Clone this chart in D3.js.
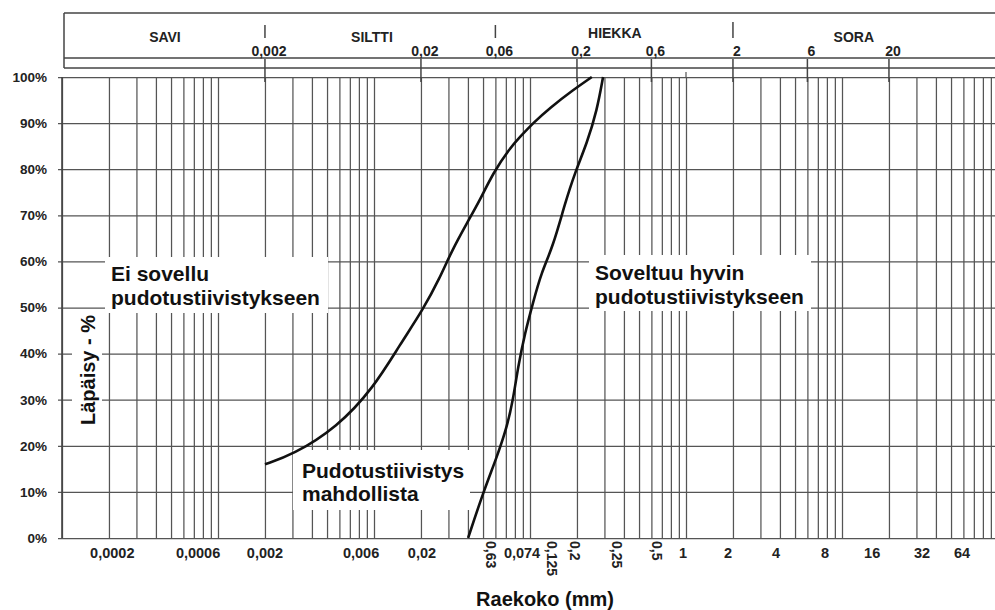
<!DOCTYPE html>
<html>
<head>
<meta charset="utf-8">
<script src="https://cdn.jsdelivr.net/npm/d3@7"></script>
<style>
  html, body { margin: 0; padding: 0; background: #fff; }
  svg { display: block; font-family: "Liberation Sans", Arial, sans-serif; font-weight: bold; }
  .grid line { stroke: #555; stroke-width: 1.25; }
  .grid path { display: none; }
</style>
</head>
<body>
<div id="chart"></div>
<script>
// Curves: grain size (mm) and passing (%)
const fineSize = [0.002, 0.003, 0.0058, 0.0099, 0.0147, 0.0206, 0.0265, 0.0312, 0.0394, 0.0478, 0.058, 0.0745, 0.0863, 0.1045, 0.134, 0.189, 0.249];
const finePass = [16, 18, 24, 32.5, 42, 49.5, 56.5, 62, 68.3, 73.3, 79.2, 84.6, 87, 90, 93.3, 97.2, 100];
const coarseSize = [0.0401, 0.05, 0.0614, 0.0712, 0.0778, 0.0838, 0.0929, 0.1045, 0.118, 0.14, 0.168, 0.194, 0.232, 0.269, 0.294];
const coarsePass = [0, 9.8, 17.6, 24.1, 29.9, 37.1, 44.5, 51, 57.5, 63.1, 72.7, 79.2, 85.7, 92.8, 100];

// Y ticks
const yTicks = [0, 10, 20, 30, 40, 50, 60, 70, 80, 90, 100];

// Bottom tick labels and the grain size where each one sits in the picture
const bottomLabels = ["0,0002", "0,0006", "0,002", "0,006", "0,02", "0,63", "0,074", "0,125", "0,2", "0,25", "0,5", "1", "2", "4", "8", "16", "32", "64"];
const bottomLabelAt = [0.00021, 0.000745, 0.002, 0.00826, 0.0203, 0.0562, 0.0889, 0.138, 0.194, 0.361, 0.652, 0.957, 1.86, 3.78, 7.78, 15.6, 32.6, 58.8];
const bottomRotated = [false, false, false, false, false, true, false, true, true, true, true, false, false, false, false, false, false, false];

// Top band: soil classes, boundaries and size labels
const classNames = ["SAVI", "SILTTI", "HIEKKA", "SORA"];
const classLabelAt = [0.000457, 0.0097, 0.35, 11.9];
const classBounds = [0.002, 0.06, 2];
const bandLabels = ["0,002", "0,02", "0,06", "0,2", "0,6", "2", "6", "20"];
const bandValues = [0.002, 0.02, 0.06, 0.2, 0.6, 2, 6, 20];
const bandTicks = [0.002, 0.02, 0.2, 0.6, 2, 6, 20];

const width = 995, height = 610;
const plotLeft = 62, plotRight = 998, plotTop = 77, plotBottom = 538;

const svg = d3.select("#chart").append("svg")
    .attr("width", width)
    .attr("height", height);

const x = d3.scaleLog().domain([1e-4, 100]).range([plotLeft, plotRight]);
const y = d3.scaleLinear().domain([0, 100]).range([plotBottom, plotTop]);

// vertical log grid
svg.append("g")
    .attr("class", "grid")
    .attr("transform", "translate(0," + plotBottom + ")")
    .call(d3.axisBottom(x).tickValues(x.ticks()).tickSize(-(plotBottom - plotTop)).tickFormat(""));

// small stub above grid line at 1 mm
svg.append("line")
    .attr("x1", x(1)).attr("x2", x(1))
    .attr("y1", 72).attr("y2", plotTop)
    .attr("stroke", "#555").attr("stroke-width", 1.2);

// horizontal grid with % labels
const yAxis = svg.append("g")
    .attr("class", "grid")
    .attr("transform", "translate(58,0)")
    .call(d3.axisLeft(y).tickValues(yTicks).tickSize(-(plotRight - 58)).tickPadding(11).tickFormat(d => d + "%"));
yAxis.selectAll("text")
    .attr("fill", "#222")
    .style("font-size", "13.5px")
    .style("font-family", "'Liberation Sans', Arial, sans-serif")
    .style("font-weight", "bold");

// left axis line
svg.append("line")
    .attr("x1", plotLeft).attr("x2", plotLeft)
    .attr("y1", plotTop).attr("y2", plotBottom)
    .attr("stroke", "#444").attr("stroke-width", 1.6);

// top band
const band = svg.append("g").attr("stroke", "#444").attr("stroke-width", 1.5);
band.append("line").attr("x1", 64).attr("x2", plotRight).attr("y1", 13).attr("y2", 13);
band.append("line").attr("x1", 64).attr("x2", 64).attr("y1", 13).attr("y2", 68);
band.append("line").attr("x1", 64).attr("x2", plotRight).attr("y1", 58).attr("y2", 58);
band.append("line").attr("x1", 64).attr("x2", plotRight).attr("y1", 68).attr("y2", 68);

band.selectAll(".divider")
    .data(classBounds)
    .enter().append("line")
    .attr("x1", d => x(d)).attr("x2", d => x(d))
    .attr("y1", d => d === 2 ? 22 : 25).attr("y2", 38);

band.selectAll(".btick")
    .data(bandTicks)
    .enter().append("line")
    .attr("x1", d => x(d)).attr("x2", d => x(d))
    .attr("y1", 59).attr("y2", 82);

svg.selectAll(".cls")
    .data(classNames)
    .enter().append("text")
    .attr("x", (d, i) => x(classLabelAt[i]))
    .attr("y", (d, i) => i === 2 ? 38 : 42)
    .attr("text-anchor", "middle")
    .attr("font-size", 14)
    .attr("fill", "#222")
    .text(d => d);

svg.selectAll(".blab")
    .data(bandLabels)
    .enter().append("text")
    .attr("x", (d, i) => x(bandValues[i]) + 4)
    .attr("y", 56)
    .attr("text-anchor", "middle")
    .attr("font-size", 14)
    .attr("fill", "#222")
    .text(d => d);

// bottom labels
svg.selectAll(".xlab")
    .data(bottomLabels)
    .enter().append("text")
    .attr("fill", "#222")
    .attr("font-size", (d, i) => bottomRotated[i] ? 14 : 14.5)
    .attr("text-anchor", (d, i) => bottomRotated[i] ? "start" : "middle")
    .attr("dominant-baseline", (d, i) => bottomRotated[i] ? "central" : "auto")
    .attr("transform", (d, i) => bottomRotated[i]
        ? "translate(" + x(bottomLabelAt[i]) + ",541) rotate(90)"
        : "translate(" + x(bottomLabelAt[i]) + ",558)")
    .text(d => d);

// axis titles
svg.append("text")
    .attr("x", 545).attr("y", 606)
    .attr("text-anchor", "middle")
    .attr("font-size", 20)
    .attr("fill", "#111")
    .text("Raekoko (mm)");

// white label boxes over the grid
const boxes = svg.append("g").attr("fill", "#fff");
boxes.append("rect").attr("x", 72).attr("y", 310).attr("width", 30).attr("height", 122);
boxes.append("rect").attr("x", 105).attr("y", 257).attr("width", 223).attr("height", 56);
boxes.append("rect").attr("x", 589).attr("y", 255).attr("width", 222).attr("height", 56);
boxes.append("rect").attr("x", 293).attr("y", 450).attr("width", 177).attr("height", 60);

svg.append("text")
    .attr("transform", "translate(95,370) rotate(-90)")
    .attr("text-anchor", "middle")
    .attr("font-size", 20)
    .attr("fill", "#111")
    .text("Läpäisy - %");

const notes = svg.append("g").attr("font-size", 21).attr("fill", "#111");
notes.append("text").attr("x", 111).attr("y", 281).text("Ei sovellu");
notes.append("text").attr("x", 111).attr("y", 305).text("pudotustiivistykseen");
notes.append("text").attr("x", 595).attr("y", 280).text("Soveltuu hyvin");
notes.append("text").attr("x", 595).attr("y", 304).text("pudotustiivistykseen");
notes.append("text").attr("x", 302).attr("y", 478).text("Pudotustiivistys");
notes.append("text").attr("x", 302).attr("y", 501).text("mahdollista");

// grading curves
const line = d3.line()
    .x(d => x(d[0]))
    .y(d => y(d[1]))
    .curve(d3.curveBasis);

svg.append("path")
    .datum(fineSize.map((s, i) => [s, finePass[i]]))
    .attr("d", line)
    .attr("fill", "none")
    .attr("stroke", "#111")
    .attr("stroke-width", 2.6);

svg.append("path")
    .datum(coarseSize.map((s, i) => [s, coarsePass[i]]))
    .attr("d", line)
    .attr("fill", "none")
    .attr("stroke", "#111")
    .attr("stroke-width", 2.6);
</script>
</body>
</html>
